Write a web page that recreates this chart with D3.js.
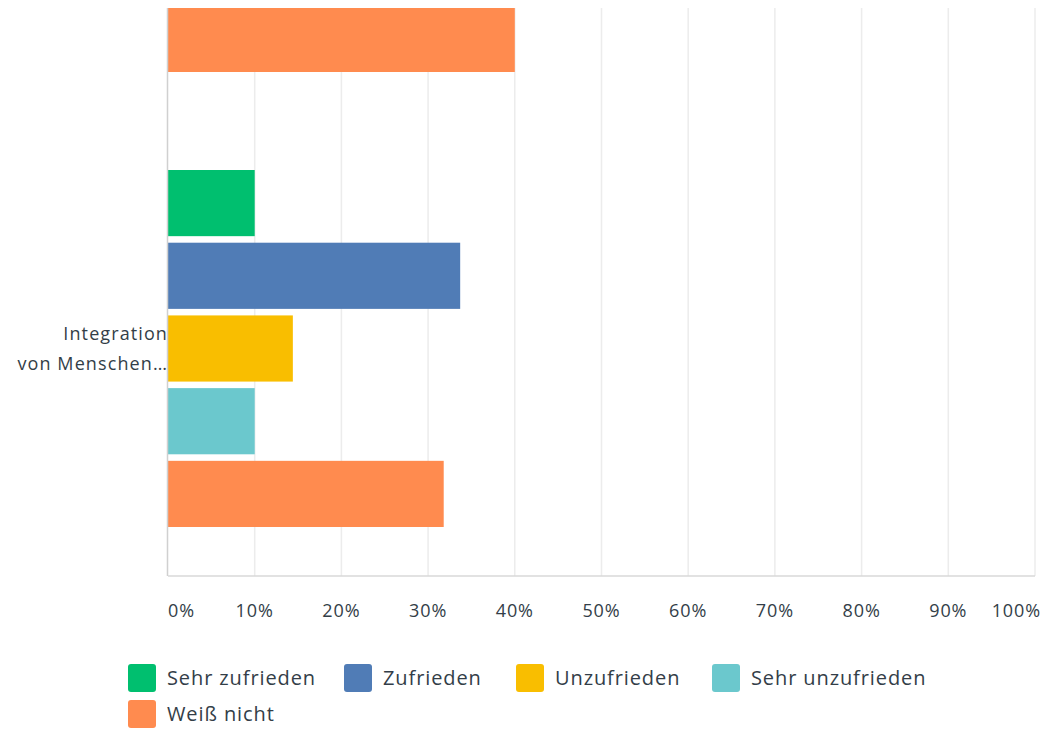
<!DOCTYPE html>
<html lang="de">
<head>
    <meta charset="UTF-8">
    <title>Zufriedenheit</title>
    <script src="https://d3js.org/d3.v7.min.js"></script>
    <style>
        body { margin: 0; background: #fff; }
        svg { display: block; font-family: "Open Sans", "Noto Sans", sans-serif; }
        .tick-label { fill: #333e48; font-size: 18px; letter-spacing: 0.9px; }
        .cat-label { fill: #333e48; font-size: 18px; letter-spacing: 1.1px; }
        .legend-text { fill: #333e48; font-size: 20px; letter-spacing: 0.9px; }
    </style>
</head>
<body>
    <svg width="1042" height="730"></svg>

    <script>
        // Kategorien (die erste liegt oberhalb des sichtbaren Ausschnitts)
        const categories = ["…", "Integration von Menschen…"];
        const categoryLines = [[], ["Integration", "von Menschen…"]];
        const seriesNames = ["Sehr zufrieden", "Zufrieden", "Unzufrieden", "Sehr unzufrieden", "Weiß nicht"];
        const seriesColors = ["#00bf6f", "#507cb6", "#f9be00", "#6bc8cd", "#ff8b4f"];
        // Werte in Prozent, null = im Ausschnitt nicht sichtbar
        const values0 = [null, null, null, null, 40];
        const values1 = [10, 33.7, 14.4, 10, 31.8];
        const tickValues = [0, 10, 20, 30, 40, 50, 60, 70, 80, 90, 100];

        const svg = d3.select("svg");
        const plotLeft = 168, plotRight = 1035, plotTop = -334, plotBottom = 576;
        const visibleTop = 8;

        const x = d3.scaleLinear().domain([0, 100]).range([plotLeft, plotRight]);
        const y = d3.scaleBand().domain(categories).range([plotTop, plotBottom]);
        const inner = d3.scaleBand().domain(seriesNames)
            .range([49, y.bandwidth() - 49]).paddingInner(0.09);

        // sichtbarer Ausschnitt
        svg.append("clipPath").attr("id", "clip")
            .append("rect")
            .attr("x", 0).attr("y", visibleTop)
            .attr("width", 1042).attr("height", plotBottom - visibleTop);

        const plot = svg.append("g").attr("clip-path", "url(#clip)");

        // Gitterlinien
        plot.append("g").selectAll("line")
            .data(tickValues.slice(1))
            .enter().append("line")
            .attr("x1", d => x(d)).attr("x2", d => x(d))
            .attr("y1", plotTop).attr("y2", plotBottom)
            .attr("stroke", "#ececec").attr("stroke-width", 1.5);

        // Balken
        const rows = [values0, values1];
        rows.forEach((vals, ci) => {
            plot.append("g")
                .attr("transform", `translate(0,${y(categories[ci])})`)
                .selectAll("rect")
                .data(vals.map((v, i) => ({ v, s: seriesNames[i], c: seriesColors[i] })).filter(d => d.v != null))
                .enter().append("rect")
                .attr("x", x(0))
                .attr("y", d => inner(d.s))
                .attr("width", d => x(d.v) - x(0))
                .attr("height", inner.bandwidth())
                .attr("fill", d => d.c);
        });

        // Achsenlinien
        plot.append("line")
            .attr("x1", plotLeft - 0.5).attr("x2", plotLeft - 0.5)
            .attr("y1", plotTop).attr("y2", plotBottom)
            .attr("stroke", "#d0d0d0").attr("stroke-width", 1.5);
        svg.append("line")
            .attr("x1", plotLeft).attr("x2", plotRight)
            .attr("y1", plotBottom).attr("y2", plotBottom)
            .attr("stroke", "#d8d8d8").attr("stroke-width", 1.5);

        // Tick-Beschriftung
        svg.append("g").selectAll("text")
            .data(tickValues)
            .enter().append("text")
            .attr("class", "tick-label")
            .attr("x", (d, i) => i === 0 ? plotLeft : (i === tickValues.length - 1 ? plotRight + 6 : x(d)))
            .attr("y", 617)
            .attr("text-anchor", (d, i) => i === 0 ? "start" : (i === tickValues.length - 1 ? "end" : "middle"))
            .text(d => d + "%");

        // Kategorie-Beschriftung
        categories.forEach((c, ci) => {
            const lines = categoryLines[ci];
            if (!lines.length) return;
            const cy = y(c) + y.bandwidth() / 2;
            const t = svg.append("text").attr("class", "cat-label").attr("text-anchor", "end");
            lines.forEach((l, li) => {
                t.append("tspan")
                    .attr("x", plotLeft)
                    .attr("y", cy + (li - (lines.length - 1) / 2) * 30 + 6)
                    .text(l);
            });
        });

        // Legende
        const legendPos = [[128, 664], [344, 664], [516, 664], [712, 664], [128, 700]];
        const lg = svg.append("g").selectAll("g")
            .data(seriesNames)
            .enter().append("g")
            .attr("transform", (d, i) => `translate(${legendPos[i][0]},${legendPos[i][1]})`);
        lg.append("rect")
            .attr("width", 28).attr("height", 28).attr("rx", 3)
            .attr("fill", (d, i) => seriesColors[i]);
        lg.append("text")
            .attr("class", "legend-text")
            .attr("x", 39).attr("y", 21)
            .text(d => d);
    </script>
</body>
</html>
